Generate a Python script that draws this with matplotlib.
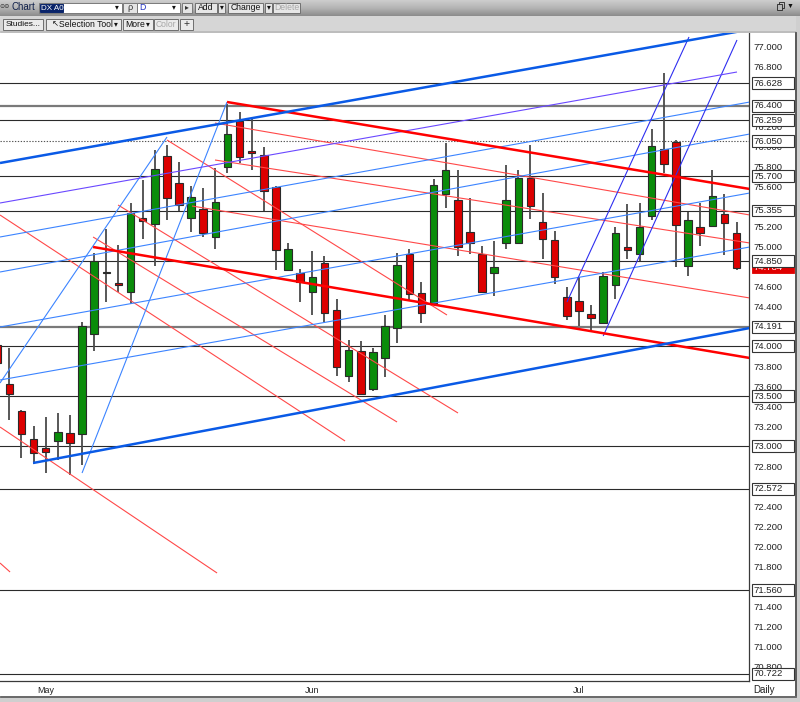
import numpy as np
import matplotlib
matplotlib.use("Agg")
import matplotlib.pyplot as plt
from matplotlib.patches import Rectangle
from matplotlib.colors import LinearSegmentedColormap

plt.rcParams["font.family"] = ["Liberation Sans", "DejaVu Sans"]

W, H = 800, 702
OUT = "out.png"

# Palette
GREEN = "#0a8c0a"
RED = "#dc0000"
CANDLE_EDGE = "#2a2a2a"
WICK = "#4a4a4a"
BLUE_THICK = "#0a5ae6"
BLUE_THIN = "#3c84ff"
VIOLET = "#6a48ff"
BLUE_DARK = "#2e2ef0"
RED_THICK = "#ff0000"
RED_THIN = "#ff4848"
INK = "#111111"
PANEL = "#d6d6d6"

# ---- bars: 0 is the first complete bar, -1 the one clipped at the left edge
bars = list(range(-1, 61))
opens = [74.01, 73.62, 73.35, 73.07, 72.98, 73.05, 73.13, 73.12, 74.12, 74.73,
         74.63, 74.54, 75.28, 75.22, 75.90, 75.63, 75.28, 75.37, 75.09, 75.79,
         76.25, 75.95, 75.91, 75.59, 74.76, 74.73, 74.54, 74.83, 74.36, 73.70,
         73.95, 73.57, 73.88, 74.18, 74.92, 74.53, 74.43, 75.52, 75.46, 75.14,
         74.92, 74.73, 75.03, 75.03, 75.68, 75.24, 75.06, 74.49, 74.45, 74.32,
         74.23, 74.61, 74.99, 74.92, 75.30, 75.97, 76.04, 74.80, 75.19, 75.20,
         75.32, 75.13]
highs = [74.05, 73.98, 73.36, 73.20, 73.29, 73.33, 73.31, 74.24, 74.93, 75.17,
         75.01, 75.43, 75.66, 75.96, 76.01, 75.84, 75.60, 75.58, 75.78, 76.42,
         76.34, 76.28, 75.99, 75.60, 75.03, 74.77, 74.95, 74.90, 74.47, 74.06,
         74.05, 73.98, 74.31, 74.93, 74.97, 74.64, 75.67, 76.03, 75.76, 75.48,
         75.00, 75.05, 75.81, 75.76, 76.01, 75.53, 75.15, 74.59, 74.69, 74.41,
         74.74, 75.19, 75.42, 75.43, 76.17, 76.73, 76.06, 75.34, 75.43, 75.76,
         75.52, 75.24]
lows = [73.75, 73.26, 72.88, 72.82, 72.73, 72.86, 72.71, 72.81, 73.95, 74.44,
        74.54, 74.42, 75.07, 74.80, 75.26, 75.35, 75.14, 75.09, 74.97, 75.73,
        75.83, 75.76, 75.35, 74.76, 74.76, 74.44, 74.31, 74.24, 73.70, 73.64,
        73.52, 73.55, 73.69, 74.03, 74.46, 74.23, 74.41, 75.38, 74.90, 74.92,
        74.53, 74.50, 74.97, 75.03, 75.27, 74.87, 74.62, 74.26, 74.20, 74.16,
        74.23, 74.47, 74.87, 74.85, 75.26, 75.73, 74.79, 74.70, 75.00, 75.20,
        74.91, 74.76]
closes = [73.83, 73.52, 73.12, 72.93, 72.94, 73.14, 73.03, 74.20, 74.85, 74.74,
          74.61, 75.33, 75.25, 75.77, 75.48, 75.41, 75.49, 75.13, 75.44, 76.12,
          75.89, 75.93, 75.55, 74.96, 74.97, 74.64, 74.69, 74.33, 73.79, 73.96,
          73.52, 73.94, 74.20, 74.81, 74.52, 74.33, 75.61, 75.76, 74.99, 75.03,
          74.54, 74.79, 75.46, 75.68, 75.40, 75.07, 74.69, 74.30, 74.35, 74.28,
          74.70, 75.13, 74.96, 75.19, 76.00, 75.82, 75.21, 75.26, 75.13, 75.50,
          75.23, 74.784]
last_price = 74.784

month_bars = [3, 25, 47]
month_names = ["May", "Jun", "Jul"]

# right-scale labels that are not hidden under a level box
price_ticks = [70.8, 71.0, 71.2, 71.4, 71.8, 72.0, 72.2, 72.4, 72.8, 73.2,
               73.4, 73.6, 73.8, 74.4, 74.6, 75.0, 75.2, 75.6, 75.8, 76.0,
               76.2, 76.8, 77.0]

# horizontal levels drawn across the chart (each gets a boxed price label)
level_prices = [76.628, 76.400, 76.259, 76.050, 75.700, 75.355, 74.850,
                74.191, 74.000, 73.500, 73.000, 72.572, 71.560, 70.722]
dotted_levels = [76.050]
heavy_levels = [76.400, 74.191]

# trendlines: (bar0, price0, bar1, price1)
blue_channel = [(-0.77, 75.83, 61.1, 77.165), (1.96, 72.83, 61.1, 74.18)]
violet_line = [(-0.77, 75.43, 60.04, 76.74)]
blue_parallels = [(-0.77, 75.09, 61.1, 76.44), (-0.77, 74.74, 61.1, 76.12),
                  (-0.77, 74.19, 61.1, 75.53), (-0.77, 73.66, 61.1, 74.99)]
blue_fan_may = [(-0.77, 73.63, 13.01, 76.09), (6.0, 72.73, 17.96, 76.44)]
blue_fan_jul = [(46.01, 74.44, 56.08, 77.09), (49.0, 74.10, 60.04, 77.06)]
red_channel = [(17.96, 76.44, 61.1, 75.57), (6.91, 74.99, 61.1, 73.88)]
red_parallels = [(16.97, 76.23, 61.1, 75.31), (16.97, 75.86, 61.1, 75.03),
                 (15.07, 75.40, 61.1, 74.48)]
red_fan = [(13.01, 76.06, 36.11, 74.31), (8.97, 75.41, 37.02, 73.33),
           (6.91, 75.09, 31.99, 73.24), (-0.77, 75.31, 27.70, 73.05),
           (-0.77, 73.19, 17.14, 71.73), (-0.77, 71.83, 0.06, 71.74)]


def fig_box(x0, y0, x1, y1):
    # pixel box (top-left origin) -> figure fraction rect
    return [x0 / W, 1 - y1 / H, (x1 - x0) / W, (y1 - y0) / H]


fig = plt.figure(figsize=(W / 100, H / 100), dpi=100)
fig.patch.set_facecolor("white")


def ui_rect(x0, y0, x1, y1, fc, ec=None, lw=0.7, z=10):
    l, b, w, h = fig_box(x0, y0, x1, y1)
    fig.add_artist(Rectangle((l, b), w, h, transform=fig.transFigure,
                             facecolor=fc, edgecolor=ec or fc, linewidth=lw, zorder=z))


def ui_text(x, y, s, size=6.3, color=INK, ha="center", **kw):
    fig.text(x / W, 1 - y / H, s, fontsize=size, color=color, ha=ha, va="center",
             zorder=12, **kw)


# ---- main chart -----------------------------------------------------------
ax = fig.add_axes(fig_box(0, 32, 749, 681))
ax.set_facecolor("white")
ax.set_xlim(-0.77, 61.03)
ax.set_ylim(70.65, 77.14)

for p in level_prices:
    if p in dotted_levels:
        ax.axhline(p, color="#555555", lw=0.8, ls=(0, (1.2, 1.4)), zorder=1)
    elif p in heavy_levels:
        ax.axhline(p, color="#7a7a7a", lw=1.6, zorder=1)
    else:
        ax.axhline(p, color="#2b2b2b", lw=0.8, zorder=1)

x = np.array(bars)
o, h, l, c = (np.array(v) for v in (opens, highs, lows, closes))
up = c >= o
ax.vlines(x, l, h, color=WICK, lw=1.3, zorder=2)
ax.bar(x, np.maximum(np.abs(c - o), 0.015), bottom=np.minimum(o, c), width=0.62,
       color=np.where(up, GREEN, RED), edgecolor=CANDLE_EDGE, linewidth=0.8, zorder=3)


def draw_lines(segments, color, lw):
    for b0, p0, b1, p1 in segments:
        ax.plot([b0, b1], [p0, p1], color=color, lw=lw, solid_capstyle="butt", zorder=4)


draw_lines(red_fan, RED_THIN, 0.8)
draw_lines(red_parallels, RED_THIN, 0.8)
draw_lines(blue_parallels, BLUE_THIN, 0.8)
draw_lines(blue_fan_may, BLUE_THIN, 0.8)
draw_lines(blue_fan_jul, BLUE_DARK, 0.8)
draw_lines(violet_line, VIOLET, 0.8)
draw_lines(red_channel, RED_THICK, 1.8)
draw_lines(blue_channel, BLUE_THICK, 1.8)

# axes frame: only the right and bottom borders show
for side in ("top", "left"):
    ax.spines[side].set_visible(False)
for side in ("right", "bottom"):
    ax.spines[side].set_color("#3a3a3a")
    ax.spines[side].set_linewidth(0.9)

ax.yaxis.tick_right()
ax.set_yticks(price_ticks, [f"{t:.3f}" for t in price_ticks])
ax.tick_params(axis="y", length=0, pad=3.2, labelsize=6.8, labelcolor="#222222")
ax.set_xticks(month_bars, month_names)
ax.tick_params(axis="x", length=0, pad=3.5, labelsize=6.4, labelcolor="#222222")

# price label boxes on the right scale
yax = ax.get_yaxis_transform()
bx0, bw = 752 / 749, 42 / 749
ax.add_patch(Rectangle((bx0, last_price - 0.055), bw, 0.11, transform=yax,
                       facecolor="#e00000", edgecolor="#e00000", lw=0.6,
                       clip_on=False, zorder=6))
ax.text(753.5 / 749, last_price, f"{last_price:.3f}", transform=yax, fontsize=6.8,
        color="white", va="center", ha="left", clip_on=False, zorder=6.5)
for p in level_prices:
    ax.add_patch(Rectangle((bx0, p - 0.058), bw, 0.116, transform=yax,
                           facecolor="white", edgecolor="#333333", lw=0.8,
                           clip_on=False, zorder=7))
    ax.text(753.5 / 749, p, f"{p:.3f}", transform=yax, fontsize=6.8,
            color="#222222", va="center", ha="left", clip_on=False, zorder=8)

# ---- window chrome --------------------------------------------------------
tb = fig.add_axes(fig_box(0, 0, 800, 16))
grad = LinearSegmentedColormap.from_list("tb", ["#cdcdcd", "#b4b4b4", "#8c8c8c"])
tb.imshow(np.linspace(0, 1, 32)[:, None], cmap=grad, aspect="auto")
tb.set_axis_off()

ui_rect(0, 16, 800, 31, PANEL)
ui_rect(0, 31, 800, 32, "#bdbdbd")
ui_rect(796, 16, 800, 702, "#cfcfcf")
ui_rect(795, 32, 796, 697, "#5a5a5a")
ui_rect(0, 697, 800, 702, "#cfcfcf")
ui_rect(0, 696, 796, 697, "#6a6a6a")
ui_text(753, 690, "Daily", size=7, color="#222222", ha="left")

# title bar widgets
ui_text(5, 7, "⊝⊝", size=4.5, color="#333333")
ui_text(12, 7.5, "Chart", size=7, color="#10204a", ha="left")
ui_rect(39, 3, 122, 13, "white", "#7a7a7a")
ui_rect(40, 4, 63, 12, "#0a246a")
ui_text(41, 8, "DX A0", size=5.8, color="white", ha="left")
ui_text(117, 8, "▾", size=5.5)
ui_rect(123, 3, 137, 13, "#e4e4e4", "#7a7a7a")
ui_text(130, 8, "ρ", size=6.5, color="#333333")
ui_rect(137, 3, 180, 13, "white", "#7a7a7a")
ui_text(139, 8, "D", size=6.3, color="#2030c0", ha="left")
ui_text(174, 8, "▾", size=5.5)
ui_rect(182, 3, 192, 13, "#e4e4e4", "#7a7a7a")
ui_text(187, 8, "▸", size=5.5, color="#333333")
for (x0, x1, s, col) in [(195, 217, "Add", INK), (218, 225, "▾", INK),
                         (228, 263, "Change", INK), (265, 272, "▾", INK),
                         (273, 300, "Delete", "#a8a8a8")]:
    ui_rect(x0, 3, x1, 13, "#e6e6e6", "#707070")
    ui_text((x0 + x1) / 2, 8, s, size=6.2 if len(s) > 1 else 5.5, color=col)
# restore-window icon (two overlapping squares) and menu arrow
ui_rect(779, 2.5, 784, 7.5, "none", "#222222", lw=0.6)
ui_rect(777, 4.5, 782, 9.5, "#b8b8b8", "#222222", lw=0.6, z=11)
ui_text(790, 6, "▼", size=5, color="#111111")

# second toolbar row
for (x0, x1) in [(3, 43), (46, 121), (123, 153), (154, 178), (180, 193)]:
    ui_rect(x0, 19, x1, 30, "#ebebeb", "#6e6e6e")
ui_text(23, 24.5, "Studies...", size=6.0)
ui_text(55, 24.5, "↖", size=6)
ui_text(86, 24.5, "Selection Tool", size=6.2)
ui_text(116, 24.5, "▾", size=5.5)
ui_text(135, 24.5, "More", size=6.2)
ui_text(148, 24.5, "▾", size=5.5)
ui_text(166, 24.5, "Color", size=6.2, color="#a8a8a8")
ui_text(186.5, 24.5, "+", size=7.5, color="#333333")

fig.savefig(OUT, dpi=100, facecolor="white")
